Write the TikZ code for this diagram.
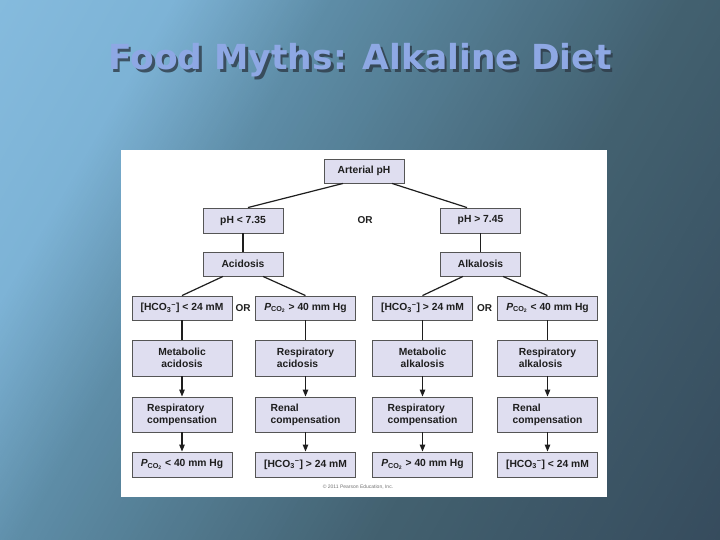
\documentclass[tikz,border=0pt]{standalone}
\usepackage{fontspec}
\setmainfont{Liberation Sans}
\newfontfamily\titlefont{DejaVu Sans}
\usetikzlibrary{calc,arrows.meta}
\definecolor{bg0}{HTML}{8AC0E2}
\definecolor{bg1}{HTML}{7DB3D6}
\definecolor{bg2}{HTML}{5D8CA6}
\definecolor{bg3}{HTML}{42606F}
\definecolor{bg4}{HTML}{34485A}
\definecolor{titleblue}{HTML}{8EA8E4}
\definecolor{titleshadow}{HTML}{2E3B48}
\definecolor{boxfill}{HTML}{DFDEF0}
\definecolor{boxline}{HTML}{555555}
\definecolor{textc}{HTML}{1E1E1E}
\tikzset{
  box/.style={draw=boxline, fill=boxfill, line width=0.9pt, text=textc,
    font=\bfseries\fontsize{10.3}{12}\selectfont, inner sep=0pt},
  topbox/.style={box, minimum width=80pt, minimum height=24pt},
  rowbox/.style={box, minimum width=100pt, minimum height=24pt},
  tallbox/.style={box, minimum width=100pt, minimum height=36pt},
  orlabel/.style={text=textc, font=\bfseries\fontsize{10}{11}\selectfont, inner sep=0pt},
  conn/.style={draw=textc, line width=1.2pt},
  arr/.style={conn, -{Triangle[length=7pt,width=5.5pt]}},
  titletext/.style={font=\titlefont\bfseries\fontsize{34.5}{36}\selectfont, inner sep=0pt, anchor=base},
}
\newcommand{\hco}{[HCO\textsubscript{3}\textsuperscript{−}]}
\newcommand{\pco}{\textit{P}\textsubscript{CO\textsubscript{2}}}
\newcommand{\bgseg}[4]{% from, to, colour A, colour B
  \foreach \p in {0,2,...,100}{
    \pgfmathsetmacro\xa{(#1)+((#2)-(#1))/102*\p}
    \pgfmathsetmacro\xb{(#1)+((#2)-(#1))/102*(\p+2)+0.6}
    \fill[#4!\p!#3] (\xa,-800) rectangle (\xb,800);
  }}
\begin{document}
\begin{tikzpicture}[x=1pt,y=-1pt]
\useasboundingbox (0,0) rectangle (720,540);
% background: diagonal gradient
\begin{scope}
\clip (0,0) rectangle (720,540);
\begin{scope}[rotate=-30]
\fill[bg0] (-300,-800) rectangle (-99,800);
\bgseg{-100}{150}{bg0}{bg1}
\bgseg{150}{290}{bg1}{bg2}
\bgseg{290}{600}{bg2}{bg3}
\bgseg{600}{950}{bg3}{bg4}
\fill[bg4] (949,-800) rectangle (1200,800);
\end{scope}
\end{scope}
% title
\node[titletext, text=titleshadow, opacity=0.8] (tshadow) at (362.5,72.5) {Food Myths: Alkaline Diet};
\node[titletext, text=titleblue] (title) at (360,70) {Food Myths: Alkaline Diet};
% panel
\fill[white] (121,150) rectangle (607,497);
% nodes
\node[topbox] (art) at (364,171) {Arterial pH};
\node[topbox, minimum height=25pt] (lo) at (243,220.5) {pH < 7.35};
\node[topbox, minimum height=25pt] (hi) at (480.5,220.5) {pH > 7.45};
\node[orlabel] (or1) at (365,220) {OR};
\node[topbox] (acid) at (243,264) {Acidosis};
\node[topbox] (alk) at (480.5,264) {Alkalosis};
% row 3
\node[rowbox] (a1) at (182,308) {\hco{} < 24 mM};
\node[rowbox] (a2) at (305.5,308) {\pco{} > 40 mm Hg};
\node[rowbox] (a3) at (422.5,308) {\hco{} > 24 mM};
\node[rowbox] (a4) at (547.5,308) {\pco{} < 40 mm Hg};
\node[orlabel] (or2) at (243,308) {OR};
\node[orlabel] (or3) at (484.5,308) {OR};
% row 4
\node[tallbox, align=center] (b1) at (182,358) {Metabolic\\acidosis};
\node[tallbox, align=left] (b2) at (305.5,358) {Respiratory\\acidosis};
\node[tallbox, align=center] (b3) at (422.5,358) {Metabolic\\alkalosis};
\node[tallbox, align=left] (b4) at (547.5,358) {Respiratory\\alkalosis};
% row 5
\node[tallbox, minimum height=35pt, align=left] (c1) at (182,414.5) {Respiratory\\compensation};
\node[tallbox, minimum height=35pt, align=left] (c2) at (305.5,414.5) {Renal\\compensation};
\node[tallbox, minimum height=35pt, align=left] (c3) at (422.5,414.5) {Respiratory\\compensation};
\node[tallbox, minimum height=35pt, align=left] (c4) at (547.5,414.5) {Renal\\compensation};
% row 6
\node[rowbox, minimum height=25pt] (d1) at (182,464.5) {\pco{} < 40 mm Hg};
\node[rowbox, minimum height=25pt] (d2) at (305.5,464.5) {\hco{} > 24 mM};
\node[rowbox, minimum height=25pt] (d3) at (422.5,464.5) {\pco{} > 40 mm Hg};
\node[rowbox, minimum height=25pt] (d4) at (547.5,464.5) {\hco{} < 24 mM};
% copyright
\node[text=black!55, font=\fontsize{5}{6}\selectfont, inner sep=0pt] (copy) at (358,487.5) {© 2011 Pearson Education, Inc.};
% connectors
\draw[conn] ($(art.south)+(-21,0)$) -- ($(lo.north)+(5,0)$);
\draw[conn] ($(art.south)+(28,0)$) -- ($(hi.north)+(-13.5,0)$);
\draw[conn] (lo) -- (acid);
\draw[conn] (hi) -- (alk);
\draw[conn] ($(acid.south)+(-20,0)$) -- (a1.north);
\draw[conn] ($(acid.south)+(20,0)$) -- (a2.north);
\draw[conn] ($(alk.south)+(-17.5,0)$) -- (a3.north);
\draw[conn] ($(alk.south)+(22.5,0)$) -- (a4.north);
\foreach \i in {1,2,3,4}{
  \draw[conn] (a\i) -- (b\i);
  \draw[arr] (b\i) -- (c\i);
  \draw[arr] (c\i) -- (d\i);
}
\end{tikzpicture}
\end{document}
